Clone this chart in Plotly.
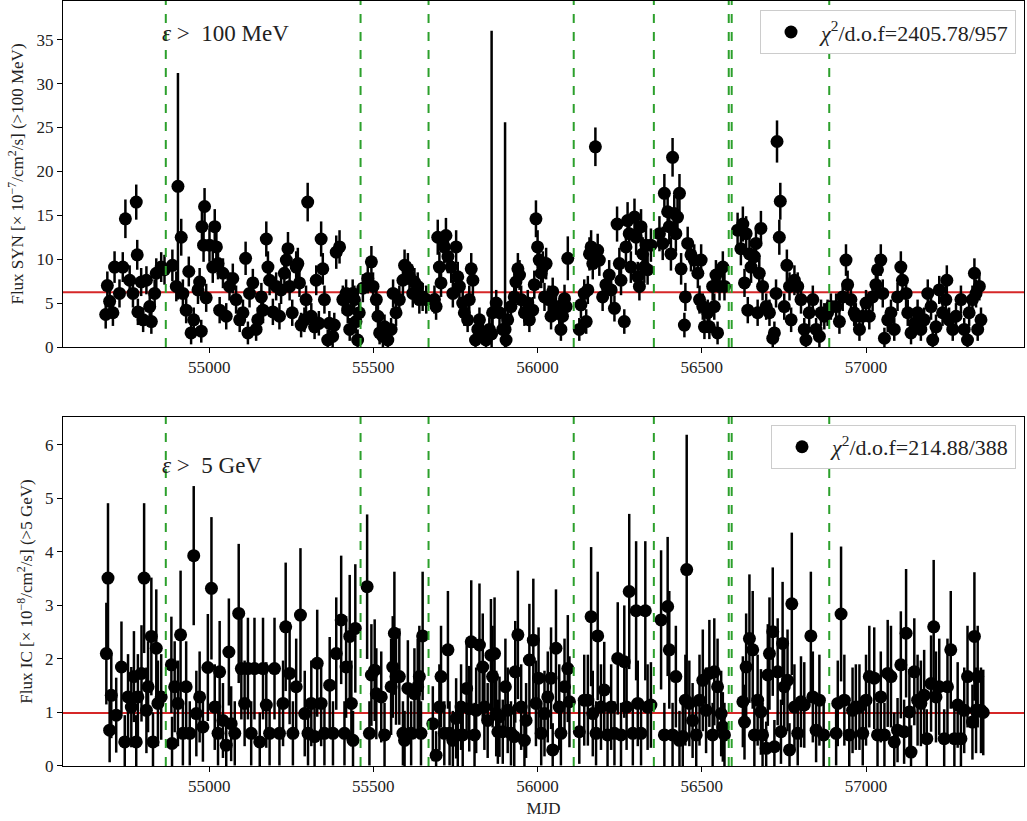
import plotly.graph_objects as go

# ---------------- data: synchrotron component (>100 MeV) ----------------
syn_mjd = [
    54685, 54690, 54697, 54707, 54712, 54727, 54737, 54745, 54758, 54768,
    54778, 54781, 54783, 54793, 54799, 54809, 54819, 54824, 54834, 54839,
    54854, 54864, 54888, 54900, 54905, 54915, 54920, 54930, 54938, 54945,
    54953, 54966, 54971, 54976, 54978, 54983, 54986, 54991, 55001, 55011,
    55017, 55022, 55027, 55032, 55042, 55052, 55062, 55072, 55082, 55093,
    55103, 55111, 55118, 55123, 55133, 55143, 55148, 55159, 55164, 55174,
    55179, 55184, 55194, 55204, 55214, 55219, 55229, 55235, 55240, 55245,
    55253, 55265, 55270, 55275, 55280, 55290, 55295, 55300, 55311, 55321,
    55326, 55334, 55341, 55346, 55351, 55361, 55366, 55376, 55381, 55387,
    55397, 55407, 55417, 55422, 55428, 55437, 55442, 55447, 55452, 55457,
    55468, 55483, 55494, 55499, 55509, 55514, 55519, 55529, 55534, 55544,
    55554, 55560, 55569, 55579, 55590, 55595, 55605, 55610, 55620, 55625,
    55635, 55640, 55650, 55661, 55686, 55691, 55696, 55701, 55706, 55716,
    55721, 55727, 55737, 55742, 55752, 55757, 55762, 55772, 55777, 55787,
    55792, 55798, 55803, 55811, 55818, 55823, 55833, 55843, 55853, 55860,
    55863, 55874, 55884, 55894, 55901, 55904, 55909, 55919, 55929, 55934,
    55940, 55945, 55950, 55960, 55970, 55975, 55985, 55990, 55995, 56000,
    56005, 56011, 56016, 56021, 56026, 56034, 56041, 56046, 56056, 56066,
    56071, 56076, 56082, 56087, 56092, 56127, 56132, 56142, 56148, 56153,
    56158, 56163, 56168, 56176, 56183, 56188, 56198, 56208, 56218, 56224,
    56234, 56242, 56249, 56254, 56264, 56269, 56274, 56279, 56284, 56295,
    56300, 56305, 56310, 56315, 56320, 56325, 56330, 56335, 56345, 56371,
    56381, 56386, 56396, 56401, 56406, 56411, 56416, 56421, 56426, 56432,
    56437, 56447, 56450, 56457, 56467, 56477, 56488, 56493, 56498, 56503,
    56508, 56518, 56523, 56533, 56538, 56543, 56548, 56554, 56564, 56569,
    56609, 56619, 56625, 56630, 56635, 56640, 56645, 56650, 56660, 56665,
    56670, 56675, 56680, 56685, 56696, 56706, 56716, 56721, 56726, 56729,
    56736, 56739, 56751, 56759, 56767, 56772, 56782, 56792, 56802, 56812,
    56817, 56827, 56838, 56848, 56858, 56863, 56873, 56883, 56893, 56909,
    56919, 56929, 56939, 56944, 56954, 56964, 56969, 56980, 56990, 57000,
    57010, 57020, 57030, 57035, 57045, 57051, 57056, 57066, 57076, 57086,
    57096, 57106, 57111, 57122, 57127, 57137, 57147, 57157, 57167, 57177,
    57188, 57198, 57203, 57213, 57223, 57233, 57243, 57246, 57253, 57264,
    57274, 57289, 57299, 57309, 57314, 57324, 57330, 57335, 57340, 57345,
    57350,
]
syn_flux = [
    3.7, 7.0, 5.2, 3.9, 9.1, 6.1, 9.1, 14.6, 7.6, 6.1,
    16.5, 10.5, 4.0, 7.4, 3.1, 7.6, 4.6, 2.9, 6.1, 8.4,
    9.1, 8.8, 9.3, 6.9, 18.3, 12.5, 6.1, 4.2, 8.6, 1.6,
    3.1, 6.5, 7.4, 1.8, 13.7, 11.6, 16.0, 5.6, 11.6, 9.1,
    13.7, 11.4, 9.5, 4.2, 8.4, 3.5, 6.9, 7.8, 5.4, 3.1,
    3.9, 10.1, 1.6, 6.1, 7.3, 2.0, 3.1, 5.7, 4.2, 12.3,
    9.1, 7.6, 4.0, 6.9, 3.5, 6.5, 8.4, 9.9, 11.2, 6.9,
    3.9, 9.1, 9.5, 7.3, 2.5, 3.1, 5.4, 16.5, 3.5, 2.3,
    7.6, 2.7, 12.3, 8.9, 5.4, 0.8, 2.7, 1.2, 2.5, 10.8,
    11.4, 5.4, 6.1, 4.2, 2.0, 6.1, 5.4, 2.9, 0.8, 3.9,
    6.7, 7.8, 9.7, 6.9, 5.4, 3.5, 1.6, 1.2, 2.3, 0.8,
    2.0, 6.1, 3.9, 5.4, 7.6, 9.3, 8.9, 8.0, 6.1, 7.4,
    6.9, 5.4, 5.7, 5.4, 5.4, 4.6, 12.5, 9.1, 7.3, 11.4,
    12.7, 10.3, 9.1, 6.1, 11.4, 8.0, 6.9, 5.0, 3.9, 3.1,
    5.4, 8.9, 7.6, 0.8, 2.0, 3.1, 1.6, 0.8, 2.0, 1.5,
    3.9, 5.0, 3.9, 2.0, 2.0, 0.8, 3.1, 4.6, 5.7, 7.4,
    8.9, 8.2, 5.4, 3.9, 5.0, 3.1, 4.2, 7.1, 14.6, 11.4,
    9.9, 8.4, 9.1, 5.7, 9.5, 5.4, 3.5, 6.3, 4.6, 3.9,
    2.0, 3.5, 5.5, 4.6, 10.1, 2.0, 4.8, 6.1, 2.9, 6.5,
    10.6, 11.4, 9.5, 22.8, 11.0, 9.9, 5.7, 7.1, 8.2, 6.5,
    4.4, 14.0, 9.5, 7.6, 2.9, 11.4, 14.4, 12.9, 9.1, 14.8,
    12.5, 8.0, 6.9, 13.7, 10.6, 9.1, 11.6, 8.8, 11.6, 12.9,
    11.8, 17.5, 15.4, 13.7, 10.6, 21.6, 15.2, 12.9, 14.8, 17.5,
    8.9, 2.5, 5.7, 11.8, 10.5, 9.9, 8.4, 5.4, 9.9, 4.6,
    2.3, 3.9, 2.3, 6.9, 4.6, 8.2, 1.6, 6.9, 9.1, 6.9,
    13.3, 11.2, 14.0, 7.3, 12.9, 4.2, 10.6, 9.1, 10.3, 11.8,
    3.9, 8.4, 13.5, 6.9, 4.6, 3.9, 1.0, 1.6, 6.1, 23.4,
    12.5, 16.6, 4.6, 9.3, 6.9, 3.1, 7.6, 6.9, 5.4, 2.0,
    0.8, 3.9, 5.4, 2.0, 1.2, 3.9, 3.5, 3.9, 4.6, 4.6,
    2.9, 5.7, 9.9, 7.1, 5.4, 3.9, 3.5, 2.0, 3.5, 5.0,
    3.5, 5.7, 7.1, 8.8, 9.9, 6.1, 1.0, 3.1, 3.9, 2.0,
    5.7, 9.1, 7.6, 6.1, 3.9, 1.6, 2.7, 3.9, 2.0, 3.1,
    6.1, 4.6, 0.8, 2.3, 6.5, 3.9, 5.4, 7.6, 3.1, 2.0,
    3.5, 5.4, 2.0, 0.8, 3.9, 5.4, 8.4, 6.1, 2.0, 6.9,
    3.1,
]
syn_err = [
    1.6, 1.6, 1.5, 1.5, 1.8, 1.6, 1.7, 2.2, 1.7, 1.6,
    2.0, 1.7, 1.5, 1.6, 1.4, 1.6, 1.5, 1.4, 1.6, 1.7,
    1.7, 1.7, 1.8, 1.7, 12.9, 2.1, 1.6, 1.5, 1.7, 1.3,
    1.4, 1.6, 1.6, 1.3, 2.0, 1.9, 2.1, 1.6, 1.9, 1.8,
    2.0, 1.9, 1.8, 1.5, 1.7, 1.5, 1.6, 1.7, 1.6, 1.4,
    1.5, 1.9, 1.3, 1.6, 1.6, 1.3, 1.4, 1.6, 1.5, 2.0,
    1.8, 1.7, 1.5, 1.6, 1.5, 1.6, 1.7, 1.8, 1.9, 1.6,
    1.5, 1.8, 1.8, 1.6, 1.4, 1.4, 1.6, 2.2, 1.5, 1.4,
    1.7, 1.4, 2.0, 1.8, 1.6, 1.2, 1.4, 1.3, 1.4, 1.9,
    1.9, 1.6, 1.6, 1.5, 1.3, 1.6, 1.6, 1.4, 1.2, 1.5,
    1.6, 1.7, 1.8, 1.6, 1.6, 1.5, 1.3, 1.3, 1.4, 1.2,
    1.3, 1.6, 1.5, 1.6, 1.7, 1.8, 1.8, 1.7, 1.6, 1.6,
    1.6, 1.6, 1.6, 1.6, 1.6, 1.5, 2.0, 1.8, 1.6, 1.9,
    2.0, 1.9, 1.8, 1.6, 1.9, 1.7, 1.6, 1.5, 1.5, 1.4,
    1.6, 1.8, 1.7, 1.2, 1.3, 1.4, 1.3, 1.2, 1.3, 34.5,
    1.5, 1.5, 1.5, 1.3, 23.6, 1.2, 1.4, 1.5, 1.6, 1.6,
    1.8, 1.7, 1.6, 1.5, 1.5, 1.4, 1.5, 1.6, 2.1, 1.9,
    1.8, 1.7, 1.8, 1.6, 1.8, 1.6, 1.5, 1.6, 1.5, 1.5,
    1.3, 1.5, 1.6, 1.5, 2.5, 1.3, 1.5, 1.6, 1.4, 1.6,
    1.9, 1.9, 1.8, 2.2, 1.9, 1.8, 1.6, 1.6, 1.7, 1.6,
    1.5, 2.0, 1.8, 1.7, 1.4, 1.9, 2.1, 2.0, 1.8, 2.1,
    2.0, 1.7, 1.6, 2.0, 1.9, 1.8, 1.9, 1.7, 1.9, 2.0,
    1.9, 2.2, 2.1, 2.0, 1.9, 2.2, 2.1, 2.0, 2.1, 2.2,
    1.8, 1.4, 1.6, 1.9, 1.9, 1.8, 1.7, 1.6, 1.8, 1.5,
    1.4, 1.5, 1.4, 1.6, 1.5, 1.7, 1.3, 1.6, 1.8, 1.6,
    2.0, 1.9, 2.0, 1.6, 2.0, 1.5, 1.9, 1.8, 1.9, 1.9,
    1.5, 1.7, 2.0, 1.6, 1.5, 1.5, 1.2, 1.3, 1.6, 2.4,
    2.0, 2.1, 1.5, 1.8, 1.6, 1.4, 1.7, 1.6, 1.6, 1.3,
    1.2, 1.5, 1.6, 1.3, 1.3, 1.5, 1.5, 1.5, 1.5, 1.5,
    1.4, 1.6, 1.8, 1.6, 1.6, 1.5, 1.5, 1.3, 1.5, 1.5,
    1.5, 1.6, 1.6, 1.7, 1.8, 1.6, 1.2, 1.4, 1.5, 1.3,
    1.6, 1.8, 1.7, 1.6, 1.5, 1.3, 1.4, 1.5, 1.3, 1.4,
    1.6, 1.5, 1.2, 1.4, 1.6, 1.5, 1.6, 1.7, 1.4, 1.3,
    1.5, 1.6, 1.3, 1.2, 1.5, 1.6, 1.7, 1.6, 1.3, 1.6,
    1.4,
]

# ---------------- data: inverse-Compton component (>5 GeV) ----------------
ic_mjd = [
    54687, 54692, 54697, 54702, 54717, 54733, 54743, 54753, 54763, 54771,
    54778, 54783, 54794, 54802, 54809, 54814, 54824, 54829, 54839, 54844,
    54854, 54885, 54887, 54895, 54905, 54913, 54920, 54930, 54941, 54953,
    54961, 54971, 54981, 54996, 55007, 55017, 55027, 55032, 55042, 55052,
    55060, 55067, 55078, 55090, 55098, 55108, 55118, 55128, 55138, 55154,
    55164, 55174, 55184, 55199, 55214, 55225, 55233, 55245, 55255, 55265,
    55278, 55291, 55301, 55311, 55321, 55329, 55341, 55351, 55367, 55377,
    55387, 55402, 55412, 55417, 55428, 55433, 55438, 55445, 55481, 55488,
    55494, 55504, 55509, 55524, 55534, 55554, 55559, 55564, 55569, 55579,
    55590, 55595, 55605, 55615, 55625, 55635, 55640, 55645, 55650, 55681,
    55691, 55701, 55706, 55716, 55727, 55732, 55742, 55752, 55757, 55767,
    55772, 55784, 55792, 55798, 55808, 55813, 55823, 55833, 55838, 55848,
    55858, 55863, 55869, 55874, 55879, 55884, 55894, 55902, 55909, 55919,
    55929, 55932, 55940, 55950, 55960, 55965, 55975, 55987, 55995, 56003,
    56011, 56021, 56031, 56041, 56046, 56056, 56066, 56071, 56082, 56092,
    56097, 56127, 56142, 56153, 56163, 56168, 56178, 56183, 56193, 56203,
    56213, 56224, 56234, 56244, 56254, 56264, 56271, 56279, 56290, 56300,
    56305, 56315, 56328, 56335, 56345, 56376, 56386, 56396, 56401, 56411,
    56421, 56432, 56442, 56450, 56454, 56462, 56472, 56483, 56493, 56503,
    56513, 56523, 56533, 56538, 56548, 56559, 56564, 56569, 56625, 56630,
    56635, 56645, 56655, 56660, 56670, 56680, 56685, 56696, 56701, 56706,
    56716, 56721, 56731, 56741, 56746, 56751, 56761, 56767, 56774, 56782,
    56792, 56802, 56812, 56832, 56838, 56848, 56858, 56871, 56909, 56914,
    56924, 56934, 56949, 56959, 56969, 56980, 56990, 57000, 57010, 57025,
    57035, 57045, 57056, 57066, 57076, 57086, 57096, 57106, 57116, 57122,
    57132, 57137, 57147, 57157, 57167, 57177, 57185, 57198, 57206, 57213,
    57223, 57238, 57248, 57258, 57269, 57279, 57289, 57299, 57309, 57324,
    57330, 57335, 57340, 57350, 57357,
]
ic_flux = [
    2.10, 3.51, 0.67, 1.32, 0.95, 1.85, 0.45, 1.29, 1.10, 1.67,
    0.45, 1.29, 1.73, 3.51, 1.04, 1.48, 2.42, 0.45, 2.20, 1.17,
    1.29, 1.89, 0.42, 1.48, 1.17, 2.45, 0.61, 1.48, 0.61, 3.93,
    0.98, 1.29, 0.73, 1.84, 3.32, 1.10, 0.61, 1.76, 0.85, 0.39,
    2.13, 0.79, 0.61, 2.85, 1.82, 1.17, 1.82, 0.61, 1.82, 0.45,
    1.82, 1.14, 0.61, 1.82, 0.61, 1.17, 2.60, 1.73, 0.61, 1.48,
    2.82, 0.98, 0.61, 1.17, 0.55, 1.92, 1.17, 0.61, 1.51, 0.61,
    2.10, 2.73, 0.61, 1.85, 2.42, 1.17, 0.48, 2.57, 3.35, 0.61,
    1.70, 1.79, 1.35, 1.29, 0.58, 1.48, 1.85, 2.48, 1.67, 1.67,
    0.61, 0.48, 1.45, 0.61, 1.35, 1.48, 1.67, 0.61, 2.43, 0.79,
    0.20, 1.10, 1.67, 0.61, 2.17, 0.61, 0.48, 0.89, 0.58, 1.10,
    0.58, 1.45, 1.07, 2.32, 0.58, 1.04, 2.26, 1.85, 1.10, 0.85,
    2.07, 1.67, 2.10, 0.98, 0.64, 0.92, 0.64, 1.48, 1.04, 0.61,
    0.55, 1.76, 2.45, 1.10, 0.48, 0.85, 1.98, 2.35, 1.17, 1.64,
    0.61, 0.98, 1.29, 1.64, 0.30, 2.20, 1.10, 0.61, 1.48, 1.82,
    1.20, 0.64, 1.23, 1.23, 2.79, 0.98, 0.61, 2.43, 1.10, 1.42,
    0.58, 1.10, 0.61, 2.01, 0.58, 1.95, 1.10, 3.26, 0.61, 2.90,
    1.17, 0.61, 2.90, 1.10, 1.14, 2.73, 0.58, 2.98, 2.17, 0.58,
    1.67, 0.48, 0.55, 1.23, 3.67, 1.17, 0.85, 0.58, 1.23, 1.60,
    1.04, 1.73, 0.58, 1.76, 1.48, 0.98, 0.73, 0.58, 1.20, 0.82,
    1.85, 2.38, 2.17, 0.58, 1.23, 1.01, 0.58, 0.33, 1.70, 2.10,
    2.51, 0.36, 1.76, 0.64, 2.29, 1.48, 1.60, 0.30, 3.03, 1.10,
    0.61, 1.20, 1.14, 2.43, 1.29, 0.67, 1.23, 0.58, 0.61, 1.17,
    2.84, 1.23, 0.58, 1.04, 1.10, 1.10, 0.61, 1.23, 1.67, 1.64,
    0.58, 1.29, 0.58, 1.73, 1.67, 0.45, 0.67, 1.89, 0.64, 2.48,
    1.01, 0.26, 1.76, 1.23, 1.17, 1.32, 0.51, 1.54, 2.60, 1.29,
    1.48, 0.51, 1.48, 2.17, 0.51, 1.14, 0.51, 1.04, 1.67, 0.82,
    2.42, 1.04, 1.67, 1.04, 1.00,
]
ic_err = [
    0.95, 1.40, 0.60, 0.80, 0.70, 0.85, 0.50, 0.80, 0.75, 0.85,
    0.50, 0.80, 0.90, 1.40, 0.80, 0.85, 1.10, 0.55, 1.10, 0.80,
    0.80, 0.90, 0.50, 0.85, 0.80, 1.20, 0.60, 0.85, 0.60, 1.30,
    0.80, 0.85, 0.65, 1.00, 1.33, 0.80, 0.60, 0.95, 0.70, 0.50,
    1.00, 0.70, 0.60, 1.30, 0.95, 0.80, 0.95, 0.60, 0.95, 0.55,
    0.95, 0.80, 0.60, 0.95, 0.60, 0.80, 1.20, 0.95, 0.60, 0.90,
    1.25, 0.80, 0.60, 0.80, 0.60, 1.00, 0.80, 0.60, 0.90, 0.60,
    1.05, 1.20, 0.60, 0.95, 1.15, 0.80, 0.55, 1.20, 1.35, 0.60,
    0.95, 0.95, 0.85, 0.85, 0.60, 0.90, 0.95, 1.15, 0.90, 0.90,
    0.60, 0.55, 0.90, 0.60, 0.85, 0.90, 0.95, 0.60, 1.20, 0.70,
    0.45, 0.80, 0.95, 0.60, 1.10, 0.60, 0.55, 0.75, 0.60, 0.80,
    0.60, 0.90, 0.80, 1.15, 0.60, 0.80, 1.15, 1.00, 0.80, 0.70,
    1.05, 0.95, 1.05, 0.80, 0.60, 0.75, 0.60, 0.90, 0.80, 0.60,
    0.60, 0.95, 1.20, 0.80, 0.55, 0.70, 1.05, 1.15, 0.80, 0.95,
    0.60, 0.80, 0.85, 0.95, 0.50, 1.10, 0.80, 0.60, 0.90, 1.00,
    0.85, 0.60, 0.85, 0.85, 1.30, 0.80, 0.60, 1.20, 0.80, 0.90,
    0.60, 0.80, 0.60, 1.05, 0.60, 1.05, 0.80, 1.45, 0.60, 1.30,
    0.80, 0.60, 1.30, 0.80, 0.80, 1.30, 0.60, 1.30, 1.10, 0.60,
    0.95, 0.55, 0.60, 0.85, 2.52, 0.80, 0.70, 0.60, 0.85, 0.95,
    0.80, 1.00, 0.60, 1.00, 0.90, 0.80, 0.65, 0.60, 0.85, 0.70,
    1.00, 1.20, 1.10, 0.60, 0.85, 0.80, 0.60, 0.50, 0.95, 1.05,
    1.20, 0.50, 1.00, 0.60, 1.15, 0.90, 0.95, 0.50, 1.33, 0.80,
    0.60, 0.85, 0.80, 1.20, 0.85, 0.60, 0.85, 0.60, 0.60, 0.80,
    1.26, 0.85, 0.60, 0.80, 0.80, 0.80, 0.60, 0.85, 0.95, 0.95,
    0.60, 0.85, 0.60, 1.00, 0.95, 0.55, 0.60, 1.00, 0.60, 1.20,
    0.80, 0.50, 1.00, 0.85, 0.80, 0.85, 0.55, 0.90, 1.25, 0.85,
    0.90, 0.55, 0.90, 1.10, 0.55, 0.80, 0.55, 0.80, 0.95, 0.70,
    1.20, 0.80, 0.95, 0.80, 0.80,
]

# block boundaries (green dashed) and mean levels (red)
breaks_mjd = [54868, 55461, 55668, 56110, 56354, 56582, 56591, 56888]
syn_mean = 6.24
ic_mean = 0.99

syn_label = "<i>χ</i><sup>2</sup>/d.o.f=2405.78/957"
ic_label = "<i>χ</i><sup>2</sup>/d.o.f=214.88/388"

FONT = "Liberation Serif, Times New Roman, serif"

fig = go.Figure()
fig.add_trace(go.Scatter(
    x=syn_mjd, y=syn_flux, mode="markers", name=syn_label, showlegend=True,
    marker=dict(color="black", size=13),
    error_y=dict(type="data", array=syn_err, color="black", thickness=2.5, width=0),
    xaxis="x", yaxis="y", legend="legend",
))
fig.add_trace(go.Scatter(
    x=ic_mjd, y=ic_flux, mode="markers", name=ic_label, showlegend=True,
    marker=dict(color="black", size=13),
    error_y=dict(type="data", array=ic_err, color="black", thickness=2.5, width=0),
    xaxis="x2", yaxis="y2", legend="legend2",
))

shapes = []
for ax, lvl in (("", syn_mean), ("2", ic_mean)):
    shapes.append(dict(type="line", xref=f"x{ax} domain", x0=0, x1=1,
                       yref=f"y{ax}", y0=lvl, y1=lvl, layer="below",
                       line=dict(color="#d62728", width=2)))
    for b in breaks_mjd:
        shapes.append(dict(type="line", xref=f"x{ax}", x0=b, x1=b,
                           yref=f"y{ax} domain", y0=0, y1=1, layer="above",
                           line=dict(color="#2ca02c", width=2, dash="dash")))

axis_common = dict(showline=True, linecolor="black", linewidth=1, mirror=True,
                   ticks="outside", ticklen=5, tickwidth=1, tickcolor="black",
                   showgrid=False, zeroline=False,
                   tickfont=dict(family=FONT, size=17, color="#222"))
xticks = [55000, 55500, 56000, 56500, 57000]
xticktext = [str(v) for v in xticks]

legend_style = dict(xanchor="right", yanchor="top", bgcolor="white",
                    bordercolor="#cccccc", borderwidth=1, itemwidth=50,
                    font=dict(family=FONT, size=22, color="#222"))

fig.update_layout(
    width=1027, height=821,
    margin=dict(l=63, r=3, t=1, b=55),
    paper_bgcolor="white", plot_bgcolor="white",
    font=dict(family=FONT, size=17, color="#222"),
    showlegend=True,
    shapes=shapes,
    xaxis=dict(domain=[0, 1], anchor="y", range=[54555, 57481],
               tickvals=xticks, ticktext=xticktext, **axis_common),
    yaxis=dict(domain=[0.5477, 1.0], anchor="x", range=[0, 39.4], dtick=5,
               title=dict(text="Flux SYN [× 10<sup>−7</sup>/cm<sup>2</sup>/s] (>100 MeV)",
                          font=dict(family=FONT, size=17), standoff=8),
               **axis_common),
    xaxis2=dict(domain=[0, 1], anchor="y2", range=[54555, 57481],
                tickvals=xticks, ticktext=xticktext,
                title=dict(text="MJD", font=dict(family=FONT, size=17), standoff=6),
                **axis_common),
    yaxis2=dict(domain=[0, 0.4562], anchor="x2", range=[0, 6.52], dtick=1,
                title=dict(text="Flux IC [× 10<sup>−8</sup>/cm<sup>2</sup>/s] (>5 GeV)",
                           font=dict(family=FONT, size=17), standoff=8),
                **axis_common),
    legend=dict(x=0.9917, y=0.988, **legend_style),
    legend2=dict(x=0.9917, y=0.4458, **legend_style),
    annotations=[
        dict(text="<i>ε</i> >  100 MeV", x=54849, y=35.7, xref="x", yref="y",
             xanchor="left", yanchor="middle", showarrow=False,
             font=dict(family=FONT, size=23, color="#222")),
        dict(text="<i>ε</i> >  5 GeV", x=54849, y=5.61, xref="x2", yref="y2",
             xanchor="left", yanchor="middle", showarrow=False,
             font=dict(family=FONT, size=23, color="#222")),
    ],
)

fig.write_html("out.html")
